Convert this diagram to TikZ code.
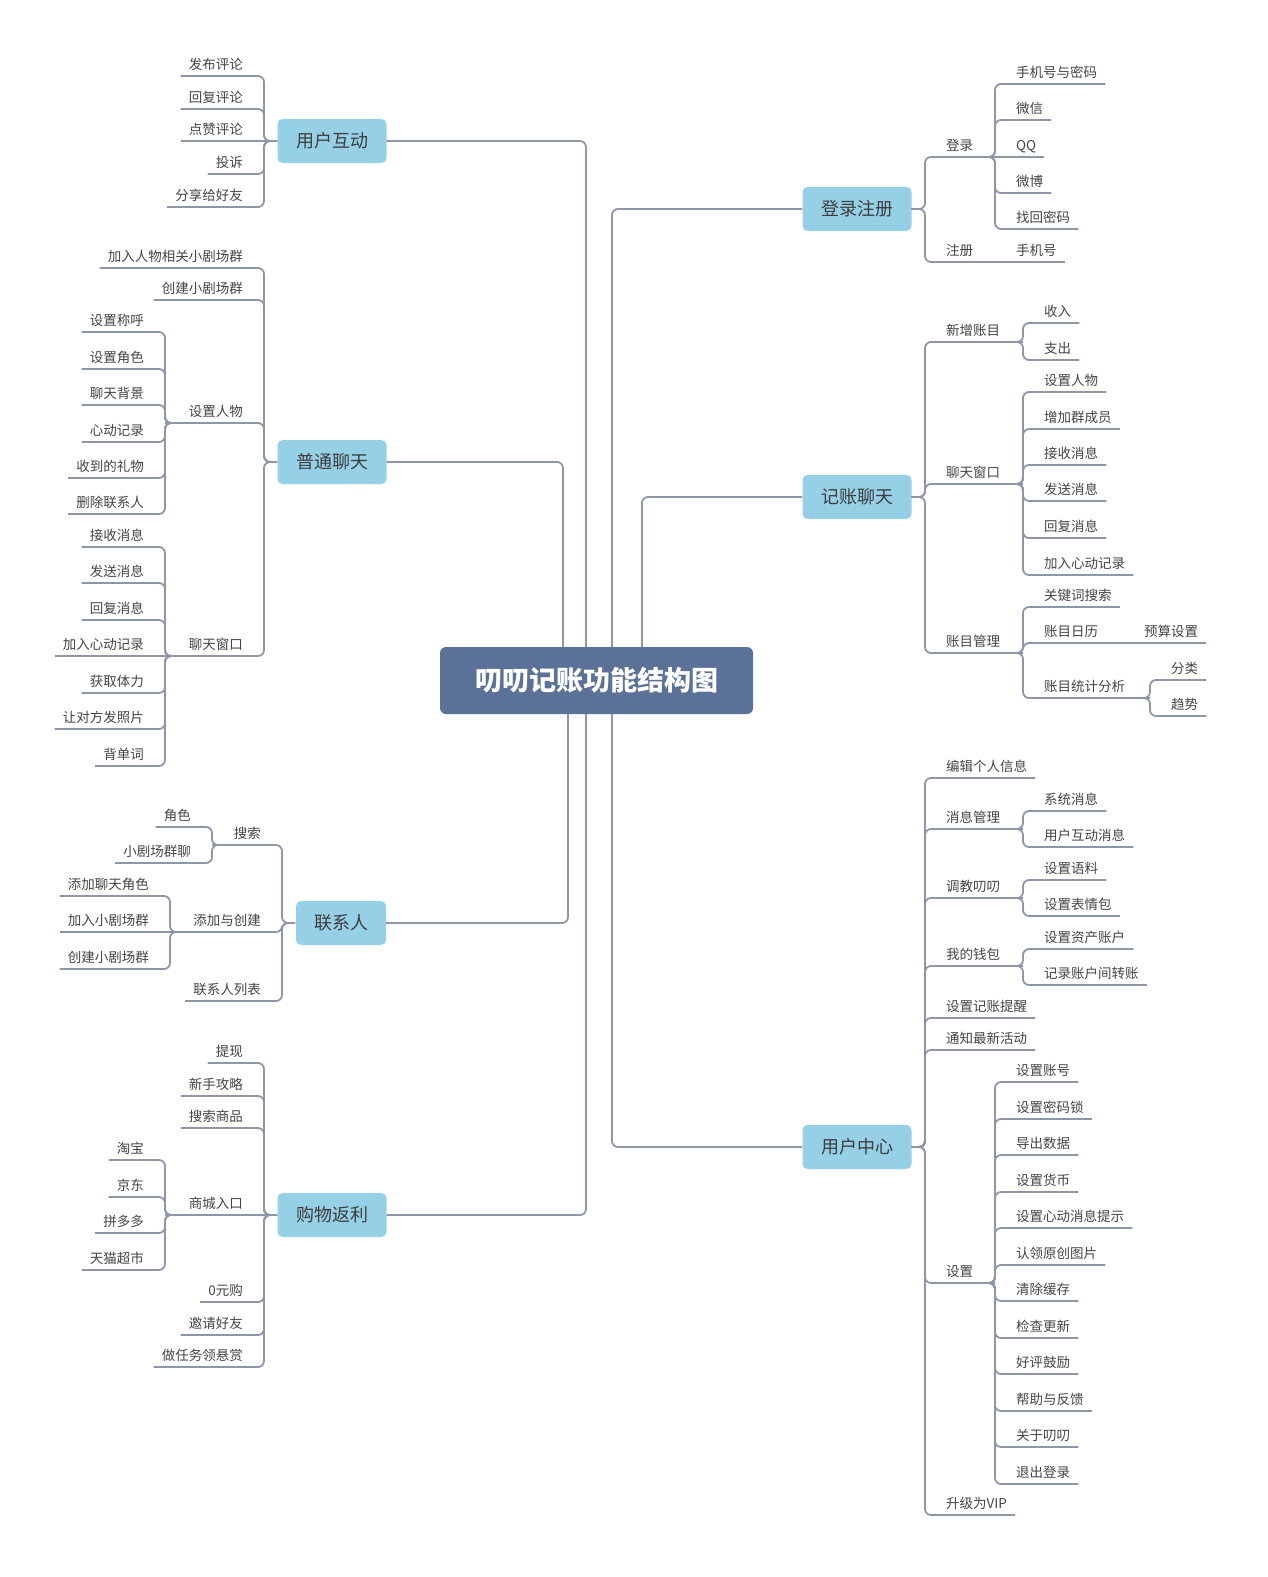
\documentclass[tikz,border=0pt]{standalone}
\usepackage{fontspec}
\setmainfont{Noto Sans CJK SC}
\begin{document}
\definecolor{lnc}{HTML}{8E96A8}
\definecolor{txc}{HTML}{444444}
\definecolor{boxc}{HTML}{96D0E6}
\definecolor{cen}{HTML}{5B7197}
\begin{tikzpicture}[x=1pt,y=-1pt,
  ln/.style={draw=lnc,line width=1.8pt,rounded corners=6pt},
  lf/.style={inner sep=0pt,text=txc,font=\fontsize{13.5}{14}\selectfont},
  box/.style={fill=boxc,rounded corners=5pt,minimum width=109pt,minimum height=44pt,inner sep=0pt,text=txc!90!black,font=\fontsize{18}{20}\selectfont},
  cbox/.style={fill=cen,rounded corners=6pt,minimum width=313pt,minimum height=67pt,inner sep=0pt,text=white,font=\fontsize{27}{30}\selectfont\bfseries}]
\useasboundingbox (0,0) rectangle (1267,1577);
\newcommand\LN[5]{%
 \node[lf,anchor=base east] (#1) at (#3-21,#2-7) {#5};
 \ifdim#2pt=#4pt
   \draw[ln] (#1.west |- 0,#2) ++(-8,0) -- (#3+13,#2);
 \else
   \draw[ln] (#1.west |- 0,#2) ++(-8,0) -- (#3,#2) -- (#3,#4) -- (#3+13,#4);
 \fi}
\newcommand\LM[6]{%
 \node[lf,anchor=base east] (#1) at (#3-21,#2-7) {#6};
 \ifdim#2pt=#4pt
   \draw[ln] (#5,#2) -- (#3+13,#2);
 \else
   \draw[ln] (#5,#2) -- (#3,#2) -- (#3,#4) -- (#3+13,#4);
 \fi}
\newcommand\RN[5]{%
 \node[lf,anchor=base west] (#1) at (#3+21,#2-7) {#5};
 \ifdim#2pt=#4pt
   \draw[ln] (#1.east |- 0,#2) ++(8,0) -- (#3-14,#2);
 \else
   \draw[ln] (#1.east |- 0,#2) ++(8,0) -- (#3,#2) -- (#3,#4) -- (#3-14,#4);
 \fi}
\newcommand\RM[6]{%
 \node[lf,anchor=base west] (#1) at (#3+21,#2-7) {#6};
 \ifdim#2pt=#4pt
   \draw[ln] (#5,#2) -- (#3-14,#2);
 \else
   \draw[ln] (#5,#2) -- (#3,#2) -- (#3,#4) -- (#3-14,#4);
 \fi}
% main boxes
\node[box] (yh) at (332,141) {用户互动};
\node[box] (pt) at (332,462) {普通聊天};
\node[box,minimum width=90pt] (lx) at (341,923) {联系人};
\node[box] (gw) at (332,1215) {购物返利};
\node[box] (dl) at (857,209) {登录注册};
\node[box] (jz) at (857,497) {记账聊天};
\node[box] (yz) at (857,1147) {用户中心};
\draw[ln] (yh.east) -- (586,141) -- (586,680);
\draw[ln] (pt.east) -- (563,462) -- (563,680);
\draw[ln] (lx.east) -- (568,923) -- (568,680);
\draw[ln] (gw.east) -- (586,1215) -- (586,680);
\draw[ln] (dl.west) -- (612,209) -- (612,680);
\draw[ln] (jz.west) -- (642,497) -- (642,680);
\draw[ln] (yz.west) -- (612,1147) -- (612,680);
\node[cbox] (c) at (596.5,680.5) {叨叨记账功能结构图};
% 用户互动
\LN{a1}{76}{264}{141}{发布评论}
\LN{a2}{109}{264}{141}{回复评论}
\LN{a3}{141}{264}{141}{点赞评论}
\LN{a4}{174}{264}{141}{投诉}
\LN{a5}{207}{264}{141}{分享给好友}
% 普通聊天
\LN{b1}{268}{264}{462}{加入人物相关小剧场群}
\LN{b2}{300}{264}{462}{创建小剧场群}
\LM{b3}{423}{264}{462}{165}{设置人物}
\LN{b31}{332}{165}{423}{设置称呼}
\LN{b32}{369}{165}{423}{设置角色}
\LN{b33}{405}{165}{423}{聊天背景}
\LN{b34}{442}{165}{423}{心动记录}
\LN{b35}{478}{165}{423}{收到的礼物}
\LN{b36}{514}{165}{423}{删除联系人}
\LM{b4}{656}{264}{462}{165}{聊天窗口}
\LN{b41}{547}{165}{656}{接收消息}
\LN{b42}{583}{165}{656}{发送消息}
\LN{b43}{620}{165}{656}{回复消息}
\LN{b44}{656}{165}{656}{加入心动记录}
\LN{b45}{693}{165}{656}{获取体力}
\LN{b46}{729}{165}{656}{让对方发照片}
\LN{b47}{766}{165}{656}{背单词}
% 联系人
\LM{c1}{845}{282}{923}{212}{搜索}
\LN{c11}{827}{212}{845}{角色}
\LN{c12}{863}{212}{845}{小剧场群聊}
\LM{c2}{932}{282}{923}{170}{添加与创建}
\LN{c21}{896}{170}{932}{添加聊天角色}
\LN{c22}{932}{170}{932}{加入小剧场群}
\LN{c23}{969}{170}{932}{创建小剧场群}
\LN{c3}{1001}{282}{923}{联系人列表}
% 购物返利
\LN{d1}{1063}{264}{1215}{提现}
\LN{d2}{1096}{264}{1215}{新手攻略}
\LN{d3}{1128}{264}{1215}{搜索商品}
\LM{d4}{1215}{264}{1215}{165}{商城入口}
\LN{d41}{1160}{165}{1215}{淘宝}
\LN{d42}{1197}{165}{1215}{京东}
\LN{d43}{1233}{165}{1215}{拼多多}
\LN{d44}{1270}{165}{1215}{天猫超市}
\LN{d5}{1302}{264}{1215}{0元购}
\LN{d6}{1335}{264}{1215}{邀请好友}
\LN{d7}{1367}{264}{1215}{做任务领悬赏}
% 登录注册
\RM{e1}{157}{925}{209}{995}{登录}
\RN{e11}{84}{995}{157}{手机号与密码}
\RN{e12}{120}{995}{157}{微信}
\RN{e13}{157}{995}{157}{QQ}
\RN{e14}{193}{995}{157}{微博}
\RN{e15}{229}{995}{157}{找回密码}
\RM{e2}{262}{925}{209}{995}{注册}
\RN{e21}{262}{995}{262}{手机号}
% 记账聊天
\RM{f1}{342}{925}{497}{1023}{新增账目}
\RN{f11}{323}{1023}{342}{收入}
\RN{f12}{360}{1023}{342}{支出}
\RM{f2}{484}{925}{497}{1023}{聊天窗口}
\RN{f21}{392}{1023}{484}{设置人物}
\RN{f22}{429}{1023}{484}{增加群成员}
\RN{f23}{465}{1023}{484}{接收消息}
\RN{f24}{501}{1023}{484}{发送消息}
\RN{f25}{538}{1023}{484}{回复消息}
\RN{f26}{575}{1023}{484}{加入心动记录}
\RM{f3}{653}{925}{497}{1023}{账目管理}
\RN{f31}{607}{1023}{653}{关键词搜索}
\RM{f32}{643}{1023}{653}{1123}{账目日历}
\RN{f321}{643}{1123}{643}{预算设置}
\RM{f33}{698}{1023}{653}{1150}{账目统计分析}
\RN{f331}{680}{1150}{698}{分类}
\RN{f332}{716}{1150}{698}{趋势}
% 用户中心
\RN{g1}{778}{925}{1147}{编辑个人信息}
\RM{g2}{829}{925}{1147}{1023}{消息管理}
\RN{g21}{811}{1023}{829}{系统消息}
\RN{g22}{847}{1023}{829}{用户互动消息}
\RM{g3}{898}{925}{1147}{1023}{调教叨叨}
\RN{g31}{880}{1023}{898}{设置语料}
\RN{g32}{916}{1023}{898}{设置表情包}
\RM{g4}{966}{925}{1147}{1023}{我的钱包}
\RN{g41}{949}{1023}{966}{设置资产账户}
\RN{g42}{985}{1023}{966}{记录账户间转账}
\RN{g5}{1018}{925}{1147}{设置记账提醒}
\RN{g6}{1050}{925}{1147}{通知最新活动}
\RM{g7}{1283}{925}{1147}{995}{设置}
\RN{g71}{1082}{995}{1283}{设置账号}
\RN{g72}{1119}{995}{1283}{设置密码锁}
\RN{g73}{1155}{995}{1283}{导出数据}
\RN{g74}{1192}{995}{1283}{设置货币}
\RN{g75}{1228}{995}{1283}{设置心动消息提示}
\RN{g76}{1265}{995}{1283}{认领原创图片}
\RN{g77}{1301}{995}{1283}{清除缓存}
\RN{g78}{1338}{995}{1283}{检查更新}
\RN{g79}{1374}{995}{1283}{好评鼓励}
\RN{g710}{1411}{995}{1283}{帮助与反馈}
\RN{g711}{1447}{995}{1283}{关于叨叨}
\RN{g712}{1484}{995}{1283}{退出登录}
\RN{g8}{1515}{925}{1147}{升级为VIP}
\end{tikzpicture}
\end{document}
